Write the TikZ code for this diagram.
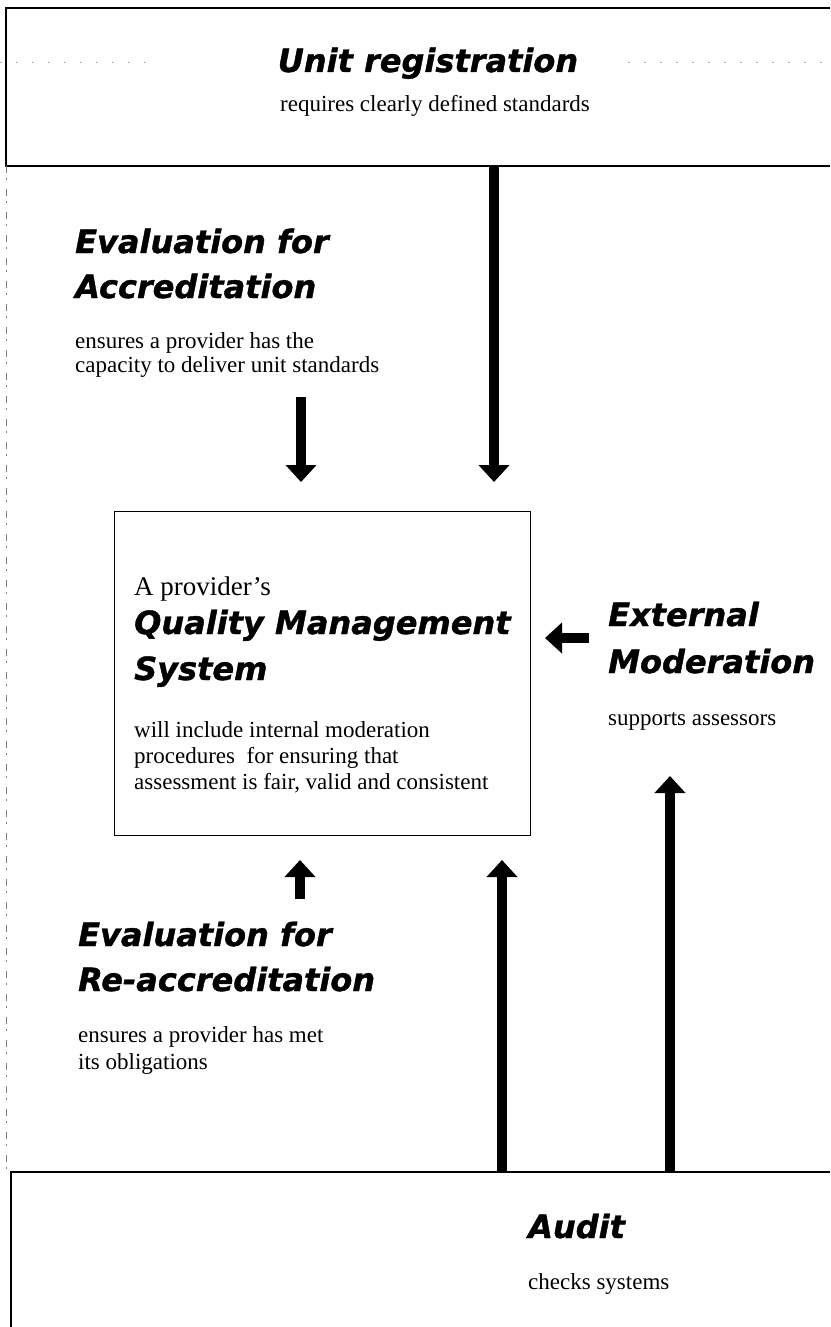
\documentclass[tikz,border=0pt]{standalone}
\usepackage{fontspec}
\setmainfont{Liberation Serif}
\newfontfamily\headfont{DejaVu Sans Bold Oblique}[FakeBold=1.2]
\usetikzlibrary{arrows.meta}
\begin{document}
\begin{tikzpicture}[x=1pt,y=-1pt,
  heading/.style={anchor=base west, inner sep=0pt, font=\headfont\fontsize{32}{36}\selectfont},
  bodytext/.style={anchor=base west, inner sep=0pt, font=\fontsize{23}{26}\selectfont},
  rule/.style={line width=2pt},
  flow/.style={line width=9.5pt, -{Triangle[width=30pt,length=17pt]}},
]
\useasboundingbox (0,0) rectangle (830,1327);

% outer frames: registration band at the top, audit band at the bottom
\draw[rule] (830,8) -- (6,8) -- (6,166) -- (830,166);
\draw[rule] (11,1327) -- (11,1172) -- (830,1172);
\draw[gray, line width=0.8pt, dash pattern=on 7pt off 5pt on 2pt off 9pt] (6,166) -- (6,1172);
\draw[gray!60, line width=0.6pt, dash pattern=on 2pt off 14pt] (0,62) -- (157,62) (628,62) -- (830,62);

% unit registration
\node[heading, anchor=base] (unitreg) at (428,72) {Unit registration};
\node[bodytext, anchor=base] (unitregtxt) at (435,112) {requires clearly defined standards};

% evaluation for accreditation
\node[heading] (evalA1) at (75,253) {Evaluation for};
\node[heading] (evalA2) at (75,298) {Accreditation};
\node[bodytext] (evalA3) at (75,348) {ensures a provider has the};
\node[bodytext] (evalA4) at (75,372) {capacity to deliver unit standards};

% quality management system
\node[draw, line width=1.2pt, anchor=north west, minimum width=416pt, minimum height=324pt, inner sep=0pt] (qms) at (114,511) {};
\node[bodytext, font=\fontsize{27}{30}\selectfont] (qms1) at (134,595) {A provider’s};
\node[heading] (qms2) at (134,634) {Quality Management};
\node[heading] (qms3) at (134,680) {System};
\node[bodytext] (qms4) at (134,737) {will include internal moderation};
\node[bodytext] (qms5) at (134,763) {procedures\ \ for ensuring that};
\node[bodytext] (qms6) at (134,789) {assessment is fair, valid and consistent};

% external moderation
\node[heading] (ext1) at (608,626) {External};
\node[heading] (ext2) at (608,673) {Moderation};
\node[bodytext] (ext3) at (608,725) {supports assessors};

% evaluation for re-accreditation
\node[heading] (evalR1) at (78,946) {Evaluation for};
\node[heading] (evalR2) at (78,991) {Re-accreditation};
\node[bodytext] (evalR3) at (78,1042) {ensures a provider has met};
\node[bodytext] (evalR4) at (78,1069) {its obligations};

% audit
\node[heading] (audit1) at (528,1238) {Audit};
\node[bodytext] (audit2) at (528,1289) {checks systems};

% arrow end points
\coordinate (regfoot) at (494,166);
\coordinate (regtip) at (494,482);
\coordinate (accfoot) at (301,397);
\coordinate (acctip) at (301,482);
\coordinate (extfoot) at (589,638);
\coordinate (exttip) at (545,638);
\coordinate (reaccfoot) at (300,899);
\coordinate (reacctip) at (300,860);
\coordinate (auditfootA) at (502,1172);
\coordinate (audittipA) at (502,860);
\coordinate (auditfootB) at (670,1172);
\coordinate (audittipB) at (670,776);

\draw[flow] (regfoot) -- (regtip);
\draw[flow] (accfoot) -- (acctip);
\draw[flow] (extfoot) -- (exttip);
\draw[flow] (reaccfoot) -- (reacctip);
\draw[flow] (auditfootA) -- (audittipA);
\draw[flow] (auditfootB) -- (audittipB);
\end{tikzpicture}
\end{document}
